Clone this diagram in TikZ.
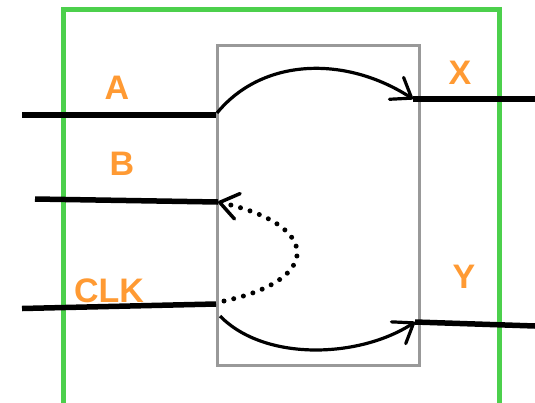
\documentclass[tikz,border=0pt]{standalone}
\usepackage{fontspec}
\setmainfont{Liberation Sans}
\usetikzlibrary{arrows.meta}

\definecolor{boxgreen}{RGB}{76,208,76}
\definecolor{boxgray}{RGB}{153,153,153}
\definecolor{pinorange}{RGB}{255,154,51}

\tikzset{
  wire/.style={line width=5.5pt},
  flow/.style={line width=3.2pt,-{Straight Barb[length=18pt,width=26pt,round]}},
  pinlabel/.style={text=pinorange,font=\bfseries\fontsize{34}{40}\selectfont,inner sep=0pt}
}

\begin{document}
\begin{tikzpicture}[x=1pt,y=-1pt]
    \useasboundingbox (0,0) rectangle (535,402);

    % Outer and inner boxes
    \draw[boxgreen,line width=5pt] (63,412) -- (63,9.5) -- (499,9.5) -- (499,412);
    \draw[boxgray,line width=3pt] (217,45) rectangle (419,365);

    % Pin ends
    \coordinate (a-in) at (22,115);   \coordinate (a-end) at (216,115);
    \coordinate (b-in) at (35,199);   \coordinate (b-end) at (218,202);
    \coordinate (clk-in) at (22,308.5); \coordinate (clk-end) at (216,304);
    \coordinate (x-start) at (413,99); \coordinate (x-out) at (535,99);
    \coordinate (y-start) at (415,322); \coordinate (y-out) at (535,326);

    % Wires
    \draw[wire] (a-in) -- (a-end);
    \draw[wire] (b-in) -- (b-end);
    \draw[wire] (clk-in) -- (clk-end);
    \draw[wire] (x-start) -- (x-out);
    \draw[wire] (y-start) -- (y-out);

    % Labels
    \node[pinlabel] (a-lbl) at (117,88) {A};
    \node[pinlabel] (b-lbl) at (122,164) {B};
    \node[pinlabel] (clk-lbl) at (109,290.5) {CLK};
    \node[pinlabel] (x-lbl) at (460,73) {X};
    \node[pinlabel] (y-lbl) at (464,277) {Y};

    % Paths through the block
    \draw[flow] (217,113) .. controls (262,58) and (345,55) .. (x-start);
    \draw[flow] (220,316) .. controls (265,362) and (360,358) .. (y-start);
    \draw[flow,dash pattern=on 0pt off 10pt,line cap=round,line width=5pt,
          -{Straight Barb[length=18pt,width=26pt,round,line width=3.5pt]}]
        (224,301) .. controls (322,280) and (322,225) .. (b-end);
\end{tikzpicture}
\end{document}
